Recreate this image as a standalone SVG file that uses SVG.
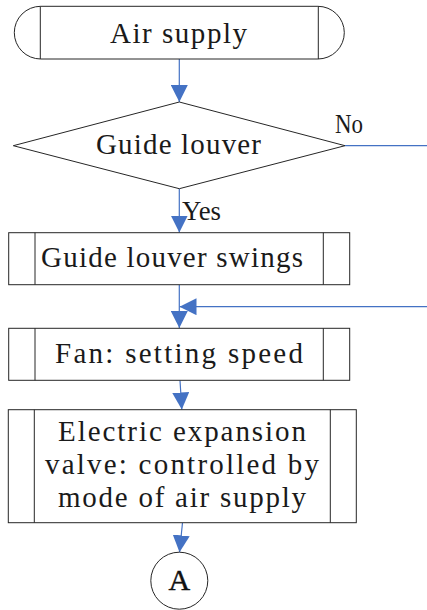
<svg xmlns="http://www.w3.org/2000/svg" width="427" height="610" viewBox="0 0 427 610">
<style>
.node{fill:#fff;stroke:#262626;stroke-width:1}
.in{fill:none;stroke:#262626;stroke-width:1}
.t{font-family:"Liberation Serif",serif;font-size:29px;fill:#1a1a1a;text-anchor:start}
.s{font-family:"Liberation Serif",serif;font-size:27px;fill:#1a1a1a;text-anchor:start}
.c{fill:none;stroke:#4472C4;stroke-width:1.2}
</style>
<defs>
<marker id="ah" markerUnits="userSpaceOnUse" markerWidth="17" markerHeight="17" viewBox="0 0 16 16" refX="16" refY="8" orient="auto">
<path d="M0,0 L16,8 L0,16 Z" fill="#4472C4"/>
</marker>
</defs>
<rect width="427" height="610" fill="#fff"/>
<g id="connectors">
<line class="c" x1="179.3" y1="59" x2="179.3" y2="102" marker-end="url(#ah)"/>
<line class="c" x1="179.3" y1="189" x2="179.3" y2="232.5" marker-end="url(#ah)"/>
<line class="c" x1="345" y1="145.7" x2="427" y2="145.7"/>
<line class="c" x1="179.3" y1="284.7" x2="179.3" y2="328" marker-end="url(#ah)"/>
<line class="c" x1="427" y1="306.7" x2="179.5" y2="306.7" marker-end="url(#ah)"/>
<line class="c" x1="180" y1="380.3" x2="181.8" y2="409.5" marker-end="url(#ah)"/>
<line class="c" x1="182.5" y1="522.7" x2="179.5" y2="552.3" marker-end="url(#ah)"/>
<text class="s" x="335" y="133" textLength="28" lengthAdjust="spacingAndGlyphs">No</text>
<text class="s" x="182" y="220" textLength="39" lengthAdjust="spacingAndGlyphs">Yes</text>
</g>
<g id="start">
<rect class="node" x="14.3" y="6.3" width="330" height="52.7" rx="26.4" ry="26.4"/>
<line class="in" x1="40.3" y1="6.3" x2="40.3" y2="59"/>
<line class="in" x1="318.3" y1="6.3" x2="318.3" y2="59"/>
<text class="t" x="110" y="42.5" textLength="137" lengthAdjust="spacing">Air supply</text>
</g>
<g id="decision">
<polygon class="node" points="179.3,102 345,145.7 179.3,188.7 13.3,145.7"/>
<text class="t" x="96" y="154" textLength="165" lengthAdjust="spacing">Guide louver</text>
</g>
<g id="swing">
<rect class="node" x="8.7" y="232.7" width="341" height="52"/>
<line class="in" x1="35" y1="232.7" x2="35" y2="284.7"/>
<line class="in" x1="323.3" y1="232.7" x2="323.3" y2="284.7"/>
<text class="t" x="41" y="267" textLength="262" lengthAdjust="spacing">Guide louver swings</text>
</g>
<g id="fan">
<rect class="node" x="8.7" y="328.3" width="341" height="52"/>
<line class="in" x1="35" y1="328.3" x2="35" y2="380.3"/>
<line class="in" x1="323.3" y1="328.3" x2="323.3" y2="380.3"/>
<text class="t" x="55" y="362.7" textLength="248" lengthAdjust="spacing">Fan: setting speed</text>
</g>
<g id="valve">
<rect class="node" x="8.3" y="409.7" width="348" height="113"/>
<line class="in" x1="34.3" y1="409.7" x2="34.3" y2="522.7"/>
<line class="in" x1="330.3" y1="409.7" x2="330.3" y2="522.7"/>
<text class="t" x="58" y="441" textLength="248" lengthAdjust="spacing">Electric expansion</text>
<text class="t" x="45" y="474" textLength="274" lengthAdjust="spacing">valve: controlled by</text>
<text class="t" x="58" y="507" textLength="248" lengthAdjust="spacing">mode of air supply</text>
</g>
<g id="connectorA">
<circle class="node" cx="179.3" cy="580.7" r="28.5"/>
<text x="179.3" y="590" font-family="Liberation Serif,serif" font-size="30" fill="#111" text-anchor="middle" stroke="#111" stroke-width="0.4">A</text>
</g>
</svg>
